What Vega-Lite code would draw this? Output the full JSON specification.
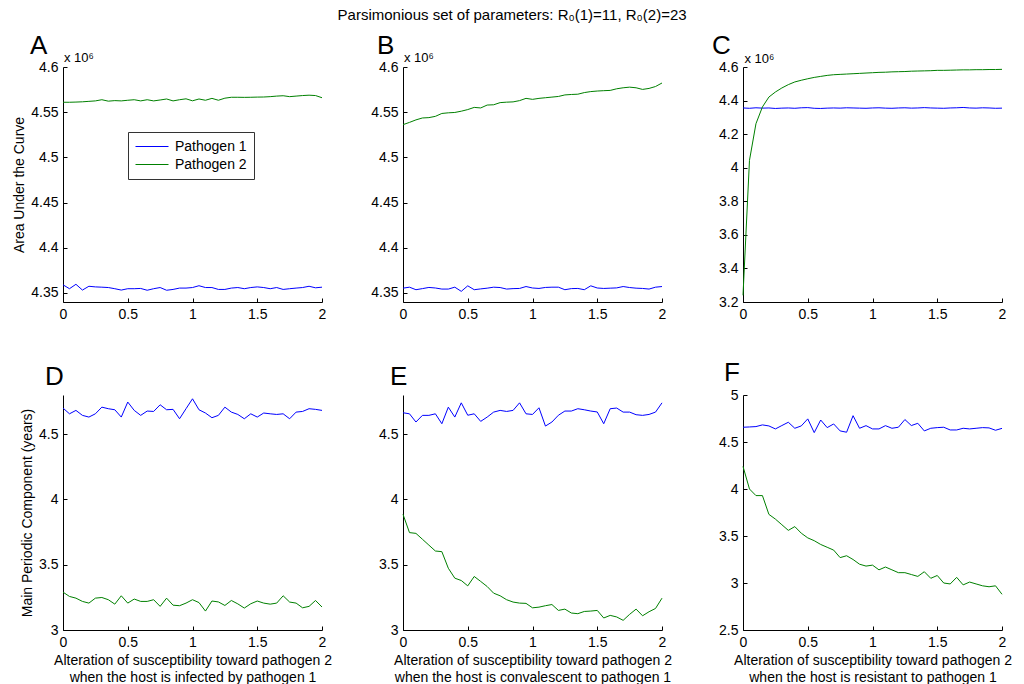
{
  "$schema": "https://vega.github.io/schema/vega-lite/v6.json",
  "background": "white",
  "padding": {"left": 12, "top": 8, "right": 5, "bottom": 0},
  "config": {
    "font": "Liberation Sans",
    "view": {"stroke": null},
    "axis": {"grid": false, "domainColor": "#000", "tickColor": "#000", "labelColor": "#000", "titleColor": "#000", "labelFontSize": 14, "titleFontSize": 14, "titleFontWeight": "normal", "labelFont": "Liberation Sans", "titleFont": "Liberation Sans", "tickSize": -4, "labelPadding": 9, "labelFlush": false, "labelOverlap": false, "titlePadding": 4, "titleLineHeight": 17},
    "title": {"font": "Liberation Sans", "fontWeight": "normal", "color": "#000"},
    "legend": {"labelFont": "Liberation Sans", "labelColor": "#000"}
  },
  "title": {"text": "Parsimonious set of parameters: R₀(1)=11, R₀(2)=23", "fontSize": 15, "anchor": "middle", "offset": 10},
  "datasets": {
    "A": [
      {"x":0,"pathogen":"Pathogen 1","value":4.359},{"x":0.05,"pathogen":"Pathogen 1","value":4.3547},{"x":0.1,"pathogen":"Pathogen 1","value":4.3596},{"x":0.15,"pathogen":"Pathogen 1","value":4.3532},{"x":0.2,"pathogen":"Pathogen 1","value":4.3574},{"x":0.25,"pathogen":"Pathogen 1","value":4.3567},{"x":0.3,"pathogen":"Pathogen 1","value":4.3564},{"x":0.35,"pathogen":"Pathogen 1","value":4.356},{"x":0.4,"pathogen":"Pathogen 1","value":4.3547},{"x":0.45,"pathogen":"Pathogen 1","value":4.3532},{"x":0.5,"pathogen":"Pathogen 1","value":4.3547},{"x":0.55,"pathogen":"Pathogen 1","value":4.3547},{"x":0.6,"pathogen":"Pathogen 1","value":4.355},{"x":0.65,"pathogen":"Pathogen 1","value":4.353},{"x":0.7,"pathogen":"Pathogen 1","value":4.3547},{"x":0.75,"pathogen":"Pathogen 1","value":4.356},{"x":0.8,"pathogen":"Pathogen 1","value":4.353},{"x":0.85,"pathogen":"Pathogen 1","value":4.3539},{"x":0.9,"pathogen":"Pathogen 1","value":4.3554},{"x":0.95,"pathogen":"Pathogen 1","value":4.3554},{"x":1,"pathogen":"Pathogen 1","value":4.356},{"x":1.05,"pathogen":"Pathogen 1","value":4.358},{"x":1.1,"pathogen":"Pathogen 1","value":4.356},{"x":1.15,"pathogen":"Pathogen 1","value":4.356},{"x":1.2,"pathogen":"Pathogen 1","value":4.3539},{"x":1.25,"pathogen":"Pathogen 1","value":4.3539},{"x":1.3,"pathogen":"Pathogen 1","value":4.3554},{"x":1.35,"pathogen":"Pathogen 1","value":4.356},{"x":1.4,"pathogen":"Pathogen 1","value":4.3547},{"x":1.45,"pathogen":"Pathogen 1","value":4.356},{"x":1.5,"pathogen":"Pathogen 1","value":4.3567},{"x":1.55,"pathogen":"Pathogen 1","value":4.356},{"x":1.6,"pathogen":"Pathogen 1","value":4.3547},{"x":1.65,"pathogen":"Pathogen 1","value":4.356},{"x":1.7,"pathogen":"Pathogen 1","value":4.3539},{"x":1.75,"pathogen":"Pathogen 1","value":4.3547},{"x":1.8,"pathogen":"Pathogen 1","value":4.3554},{"x":1.85,"pathogen":"Pathogen 1","value":4.356},{"x":1.9,"pathogen":"Pathogen 1","value":4.3574},{"x":1.95,"pathogen":"Pathogen 1","value":4.3557},{"x":2,"pathogen":"Pathogen 1","value":4.3564},
      {"x":0,"pathogen":"Pathogen 2","value":4.561},{"x":0.05,"pathogen":"Pathogen 2","value":4.561},{"x":0.1,"pathogen":"Pathogen 2","value":4.5612},{"x":0.15,"pathogen":"Pathogen 2","value":4.5615},{"x":0.2,"pathogen":"Pathogen 2","value":4.562},{"x":0.25,"pathogen":"Pathogen 2","value":4.5625},{"x":0.3,"pathogen":"Pathogen 2","value":4.5638},{"x":0.35,"pathogen":"Pathogen 2","value":4.5622},{"x":0.4,"pathogen":"Pathogen 2","value":4.5628},{"x":0.45,"pathogen":"Pathogen 2","value":4.5625},{"x":0.5,"pathogen":"Pathogen 2","value":4.5632},{"x":0.55,"pathogen":"Pathogen 2","value":4.5638},{"x":0.6,"pathogen":"Pathogen 2","value":4.5625},{"x":0.65,"pathogen":"Pathogen 2","value":4.5638},{"x":0.7,"pathogen":"Pathogen 2","value":4.5625},{"x":0.75,"pathogen":"Pathogen 2","value":4.5635},{"x":0.8,"pathogen":"Pathogen 2","value":4.5646},{"x":0.85,"pathogen":"Pathogen 2","value":4.5625},{"x":0.9,"pathogen":"Pathogen 2","value":4.5638},{"x":0.95,"pathogen":"Pathogen 2","value":4.5648},{"x":1,"pathogen":"Pathogen 2","value":4.5626},{"x":1.05,"pathogen":"Pathogen 2","value":4.5646},{"x":1.1,"pathogen":"Pathogen 2","value":4.5632},{"x":1.15,"pathogen":"Pathogen 2","value":4.5653},{"x":1.2,"pathogen":"Pathogen 2","value":4.5632},{"x":1.25,"pathogen":"Pathogen 2","value":4.5655},{"x":1.3,"pathogen":"Pathogen 2","value":4.5665},{"x":1.35,"pathogen":"Pathogen 2","value":4.5665},{"x":1.4,"pathogen":"Pathogen 2","value":4.5664},{"x":1.45,"pathogen":"Pathogen 2","value":4.5665},{"x":1.5,"pathogen":"Pathogen 2","value":4.5667},{"x":1.55,"pathogen":"Pathogen 2","value":4.5668},{"x":1.6,"pathogen":"Pathogen 2","value":4.5672},{"x":1.65,"pathogen":"Pathogen 2","value":4.5678},{"x":1.7,"pathogen":"Pathogen 2","value":4.5682},{"x":1.75,"pathogen":"Pathogen 2","value":4.5672},{"x":1.8,"pathogen":"Pathogen 2","value":4.5678},{"x":1.85,"pathogen":"Pathogen 2","value":4.5684},{"x":1.9,"pathogen":"Pathogen 2","value":4.5688},{"x":1.95,"pathogen":"Pathogen 2","value":4.5684},{"x":2,"pathogen":"Pathogen 2","value":4.566}
    ],
    "B": [
      {"x":0,"pathogen":"Pathogen 1","value":4.3553},{"x":0.05,"pathogen":"Pathogen 1","value":4.3564},{"x":0.1,"pathogen":"Pathogen 1","value":4.3536},{"x":0.15,"pathogen":"Pathogen 1","value":4.3548},{"x":0.2,"pathogen":"Pathogen 1","value":4.3561},{"x":0.25,"pathogen":"Pathogen 1","value":4.3555},{"x":0.3,"pathogen":"Pathogen 1","value":4.3543},{"x":0.35,"pathogen":"Pathogen 1","value":4.3543},{"x":0.4,"pathogen":"Pathogen 1","value":4.3564},{"x":0.45,"pathogen":"Pathogen 1","value":4.3518},{"x":0.5,"pathogen":"Pathogen 1","value":4.3579},{"x":0.55,"pathogen":"Pathogen 1","value":4.3536},{"x":0.6,"pathogen":"Pathogen 1","value":4.3545},{"x":0.65,"pathogen":"Pathogen 1","value":4.3553},{"x":0.7,"pathogen":"Pathogen 1","value":4.3564},{"x":0.75,"pathogen":"Pathogen 1","value":4.356},{"x":0.8,"pathogen":"Pathogen 1","value":4.3543},{"x":0.85,"pathogen":"Pathogen 1","value":4.3548},{"x":0.9,"pathogen":"Pathogen 1","value":4.355},{"x":0.95,"pathogen":"Pathogen 1","value":4.3571},{"x":1,"pathogen":"Pathogen 1","value":4.3555},{"x":1.05,"pathogen":"Pathogen 1","value":4.355},{"x":1.1,"pathogen":"Pathogen 1","value":4.3561},{"x":1.15,"pathogen":"Pathogen 1","value":4.3564},{"x":1.2,"pathogen":"Pathogen 1","value":4.3564},{"x":1.25,"pathogen":"Pathogen 1","value":4.3536},{"x":1.3,"pathogen":"Pathogen 1","value":4.3548},{"x":1.35,"pathogen":"Pathogen 1","value":4.355},{"x":1.4,"pathogen":"Pathogen 1","value":4.3536},{"x":1.45,"pathogen":"Pathogen 1","value":4.3579},{"x":1.5,"pathogen":"Pathogen 1","value":4.3555},{"x":1.55,"pathogen":"Pathogen 1","value":4.355},{"x":1.6,"pathogen":"Pathogen 1","value":4.3553},{"x":1.65,"pathogen":"Pathogen 1","value":4.3556},{"x":1.7,"pathogen":"Pathogen 1","value":4.3571},{"x":1.75,"pathogen":"Pathogen 1","value":4.356},{"x":1.8,"pathogen":"Pathogen 1","value":4.3553},{"x":1.85,"pathogen":"Pathogen 1","value":4.355},{"x":1.9,"pathogen":"Pathogen 1","value":4.3543},{"x":1.95,"pathogen":"Pathogen 1","value":4.3564},{"x":2,"pathogen":"Pathogen 1","value":4.3571},
      {"x":0,"pathogen":"Pathogen 2","value":4.5362},{"x":0.05,"pathogen":"Pathogen 2","value":4.5387},{"x":0.1,"pathogen":"Pathogen 2","value":4.5415},{"x":0.15,"pathogen":"Pathogen 2","value":4.5436},{"x":0.2,"pathogen":"Pathogen 2","value":4.544},{"x":0.25,"pathogen":"Pathogen 2","value":4.5454},{"x":0.3,"pathogen":"Pathogen 2","value":4.5486},{"x":0.35,"pathogen":"Pathogen 2","value":4.5493},{"x":0.4,"pathogen":"Pathogen 2","value":4.5497},{"x":0.45,"pathogen":"Pathogen 2","value":4.5511},{"x":0.5,"pathogen":"Pathogen 2","value":4.5529},{"x":0.55,"pathogen":"Pathogen 2","value":4.5553},{"x":0.6,"pathogen":"Pathogen 2","value":4.5547},{"x":0.65,"pathogen":"Pathogen 2","value":4.5579},{"x":0.7,"pathogen":"Pathogen 2","value":4.5582},{"x":0.75,"pathogen":"Pathogen 2","value":4.5606},{"x":0.8,"pathogen":"Pathogen 2","value":4.5611},{"x":0.85,"pathogen":"Pathogen 2","value":4.5614},{"x":0.9,"pathogen":"Pathogen 2","value":4.5628},{"x":0.95,"pathogen":"Pathogen 2","value":4.5653},{"x":1,"pathogen":"Pathogen 2","value":4.5642},{"x":1.05,"pathogen":"Pathogen 2","value":4.5653},{"x":1.1,"pathogen":"Pathogen 2","value":4.566},{"x":1.15,"pathogen":"Pathogen 2","value":4.5667},{"x":1.2,"pathogen":"Pathogen 2","value":4.5674},{"x":1.25,"pathogen":"Pathogen 2","value":4.5691},{"x":1.3,"pathogen":"Pathogen 2","value":4.5696},{"x":1.35,"pathogen":"Pathogen 2","value":4.5699},{"x":1.4,"pathogen":"Pathogen 2","value":4.5717},{"x":1.45,"pathogen":"Pathogen 2","value":4.5728},{"x":1.5,"pathogen":"Pathogen 2","value":4.5734},{"x":1.55,"pathogen":"Pathogen 2","value":4.5738},{"x":1.6,"pathogen":"Pathogen 2","value":4.5741},{"x":1.65,"pathogen":"Pathogen 2","value":4.5759},{"x":1.7,"pathogen":"Pathogen 2","value":4.577},{"x":1.75,"pathogen":"Pathogen 2","value":4.5777},{"x":1.8,"pathogen":"Pathogen 2","value":4.577},{"x":1.85,"pathogen":"Pathogen 2","value":4.5752},{"x":1.9,"pathogen":"Pathogen 2","value":4.5763},{"x":1.95,"pathogen":"Pathogen 2","value":4.5784},{"x":2,"pathogen":"Pathogen 2","value":4.5823}
    ],
    "C": [
      {"x":0,"pathogen":"Pathogen 1","value":4.356},{"x":0.05,"pathogen":"Pathogen 1","value":4.354},{"x":0.1,"pathogen":"Pathogen 1","value":4.357},{"x":0.15,"pathogen":"Pathogen 1","value":4.355},{"x":0.2,"pathogen":"Pathogen 1","value":4.356},{"x":0.25,"pathogen":"Pathogen 1","value":4.353},{"x":0.3,"pathogen":"Pathogen 1","value":4.355},{"x":0.35,"pathogen":"Pathogen 1","value":4.356},{"x":0.4,"pathogen":"Pathogen 1","value":4.354},{"x":0.45,"pathogen":"Pathogen 1","value":4.357},{"x":0.5,"pathogen":"Pathogen 1","value":4.358},{"x":0.55,"pathogen":"Pathogen 1","value":4.354},{"x":0.6,"pathogen":"Pathogen 1","value":4.353},{"x":0.65,"pathogen":"Pathogen 1","value":4.355},{"x":0.7,"pathogen":"Pathogen 1","value":4.356},{"x":0.75,"pathogen":"Pathogen 1","value":4.355},{"x":0.8,"pathogen":"Pathogen 1","value":4.357},{"x":0.85,"pathogen":"Pathogen 1","value":4.356},{"x":0.9,"pathogen":"Pathogen 1","value":4.355},{"x":0.95,"pathogen":"Pathogen 1","value":4.354},{"x":1,"pathogen":"Pathogen 1","value":4.356},{"x":1.05,"pathogen":"Pathogen 1","value":4.357},{"x":1.1,"pathogen":"Pathogen 1","value":4.355},{"x":1.15,"pathogen":"Pathogen 1","value":4.354},{"x":1.2,"pathogen":"Pathogen 1","value":4.356},{"x":1.25,"pathogen":"Pathogen 1","value":4.357},{"x":1.3,"pathogen":"Pathogen 1","value":4.355},{"x":1.35,"pathogen":"Pathogen 1","value":4.356},{"x":1.4,"pathogen":"Pathogen 1","value":4.358},{"x":1.45,"pathogen":"Pathogen 1","value":4.356},{"x":1.5,"pathogen":"Pathogen 1","value":4.355},{"x":1.55,"pathogen":"Pathogen 1","value":4.354},{"x":1.6,"pathogen":"Pathogen 1","value":4.356},{"x":1.65,"pathogen":"Pathogen 1","value":4.357},{"x":1.7,"pathogen":"Pathogen 1","value":4.359},{"x":1.75,"pathogen":"Pathogen 1","value":4.356},{"x":1.8,"pathogen":"Pathogen 1","value":4.355},{"x":1.85,"pathogen":"Pathogen 1","value":4.357},{"x":1.9,"pathogen":"Pathogen 1","value":4.356},{"x":1.95,"pathogen":"Pathogen 1","value":4.354},{"x":2,"pathogen":"Pathogen 1","value":4.355},
      {"x":0,"pathogen":"Pathogen 2","value":3.24},{"x":0.05,"pathogen":"Pathogen 2","value":4.044},{"x":0.1,"pathogen":"Pathogen 2","value":4.262},{"x":0.15,"pathogen":"Pathogen 2","value":4.362},{"x":0.2,"pathogen":"Pathogen 2","value":4.421},{"x":0.25,"pathogen":"Pathogen 2","value":4.451},{"x":0.3,"pathogen":"Pathogen 2","value":4.475},{"x":0.35,"pathogen":"Pathogen 2","value":4.495},{"x":0.4,"pathogen":"Pathogen 2","value":4.511},{"x":0.45,"pathogen":"Pathogen 2","value":4.521},{"x":0.5,"pathogen":"Pathogen 2","value":4.53},{"x":0.55,"pathogen":"Pathogen 2","value":4.538},{"x":0.6,"pathogen":"Pathogen 2","value":4.544},{"x":0.65,"pathogen":"Pathogen 2","value":4.55},{"x":0.7,"pathogen":"Pathogen 2","value":4.554},{"x":0.75,"pathogen":"Pathogen 2","value":4.556},{"x":0.8,"pathogen":"Pathogen 2","value":4.558},{"x":0.85,"pathogen":"Pathogen 2","value":4.56},{"x":0.9,"pathogen":"Pathogen 2","value":4.562},{"x":0.95,"pathogen":"Pathogen 2","value":4.564},{"x":1,"pathogen":"Pathogen 2","value":4.566},{"x":1.05,"pathogen":"Pathogen 2","value":4.568},{"x":1.1,"pathogen":"Pathogen 2","value":4.569},{"x":1.15,"pathogen":"Pathogen 2","value":4.571},{"x":1.2,"pathogen":"Pathogen 2","value":4.572},{"x":1.25,"pathogen":"Pathogen 2","value":4.573},{"x":1.3,"pathogen":"Pathogen 2","value":4.575},{"x":1.35,"pathogen":"Pathogen 2","value":4.576},{"x":1.4,"pathogen":"Pathogen 2","value":4.577},{"x":1.45,"pathogen":"Pathogen 2","value":4.578},{"x":1.5,"pathogen":"Pathogen 2","value":4.58},{"x":1.55,"pathogen":"Pathogen 2","value":4.58},{"x":1.6,"pathogen":"Pathogen 2","value":4.581},{"x":1.65,"pathogen":"Pathogen 2","value":4.582},{"x":1.7,"pathogen":"Pathogen 2","value":4.583},{"x":1.75,"pathogen":"Pathogen 2","value":4.583},{"x":1.8,"pathogen":"Pathogen 2","value":4.584},{"x":1.85,"pathogen":"Pathogen 2","value":4.584},{"x":1.9,"pathogen":"Pathogen 2","value":4.585},{"x":1.95,"pathogen":"Pathogen 2","value":4.585},{"x":2,"pathogen":"Pathogen 2","value":4.586}
    ],
    "D": [
      {"x":0,"pathogen":"Pathogen 1","value":4.7},{"x":0.05,"pathogen":"Pathogen 1","value":4.656},{"x":0.1,"pathogen":"Pathogen 1","value":4.682},{"x":0.15,"pathogen":"Pathogen 1","value":4.644},{"x":0.2,"pathogen":"Pathogen 1","value":4.631},{"x":0.25,"pathogen":"Pathogen 1","value":4.656},{"x":0.3,"pathogen":"Pathogen 1","value":4.707},{"x":0.35,"pathogen":"Pathogen 1","value":4.695},{"x":0.4,"pathogen":"Pathogen 1","value":4.687},{"x":0.45,"pathogen":"Pathogen 1","value":4.631},{"x":0.5,"pathogen":"Pathogen 1","value":4.746},{"x":0.55,"pathogen":"Pathogen 1","value":4.682},{"x":0.6,"pathogen":"Pathogen 1","value":4.644},{"x":0.65,"pathogen":"Pathogen 1","value":4.677},{"x":0.7,"pathogen":"Pathogen 1","value":4.674},{"x":0.75,"pathogen":"Pathogen 1","value":4.725},{"x":0.8,"pathogen":"Pathogen 1","value":4.687},{"x":0.85,"pathogen":"Pathogen 1","value":4.69},{"x":0.9,"pathogen":"Pathogen 1","value":4.618},{"x":0.95,"pathogen":"Pathogen 1","value":4.695},{"x":1,"pathogen":"Pathogen 1","value":4.771},{"x":1.05,"pathogen":"Pathogen 1","value":4.687},{"x":1.1,"pathogen":"Pathogen 1","value":4.662},{"x":1.15,"pathogen":"Pathogen 1","value":4.626},{"x":1.2,"pathogen":"Pathogen 1","value":4.644},{"x":1.25,"pathogen":"Pathogen 1","value":4.707},{"x":1.3,"pathogen":"Pathogen 1","value":4.669},{"x":1.35,"pathogen":"Pathogen 1","value":4.651},{"x":1.4,"pathogen":"Pathogen 1","value":4.618},{"x":1.45,"pathogen":"Pathogen 1","value":4.656},{"x":1.5,"pathogen":"Pathogen 1","value":4.631},{"x":1.55,"pathogen":"Pathogen 1","value":4.662},{"x":1.6,"pathogen":"Pathogen 1","value":4.656},{"x":1.65,"pathogen":"Pathogen 1","value":4.651},{"x":1.7,"pathogen":"Pathogen 1","value":4.656},{"x":1.75,"pathogen":"Pathogen 1","value":4.618},{"x":1.8,"pathogen":"Pathogen 1","value":4.669},{"x":1.85,"pathogen":"Pathogen 1","value":4.674},{"x":1.9,"pathogen":"Pathogen 1","value":4.695},{"x":1.95,"pathogen":"Pathogen 1","value":4.69},{"x":2,"pathogen":"Pathogen 1","value":4.682},
      {"x":0,"pathogen":"Pathogen 2","value":3.29},{"x":0.05,"pathogen":"Pathogen 2","value":3.257},{"x":0.1,"pathogen":"Pathogen 2","value":3.244},{"x":0.15,"pathogen":"Pathogen 2","value":3.219},{"x":0.2,"pathogen":"Pathogen 2","value":3.206},{"x":0.25,"pathogen":"Pathogen 2","value":3.244},{"x":0.3,"pathogen":"Pathogen 2","value":3.249},{"x":0.35,"pathogen":"Pathogen 2","value":3.232},{"x":0.4,"pathogen":"Pathogen 2","value":3.198},{"x":0.45,"pathogen":"Pathogen 2","value":3.262},{"x":0.5,"pathogen":"Pathogen 2","value":3.206},{"x":0.55,"pathogen":"Pathogen 2","value":3.237},{"x":0.6,"pathogen":"Pathogen 2","value":3.219},{"x":0.65,"pathogen":"Pathogen 2","value":3.219},{"x":0.7,"pathogen":"Pathogen 2","value":3.232},{"x":0.75,"pathogen":"Pathogen 2","value":3.181},{"x":0.8,"pathogen":"Pathogen 2","value":3.244},{"x":0.85,"pathogen":"Pathogen 2","value":3.19},{"x":0.9,"pathogen":"Pathogen 2","value":3.186},{"x":0.95,"pathogen":"Pathogen 2","value":3.206},{"x":1,"pathogen":"Pathogen 2","value":3.232},{"x":1.05,"pathogen":"Pathogen 2","value":3.21},{"x":1.1,"pathogen":"Pathogen 2","value":3.145},{"x":1.15,"pathogen":"Pathogen 2","value":3.222},{"x":1.2,"pathogen":"Pathogen 2","value":3.215},{"x":1.25,"pathogen":"Pathogen 2","value":3.188},{"x":1.3,"pathogen":"Pathogen 2","value":3.226},{"x":1.35,"pathogen":"Pathogen 2","value":3.2},{"x":1.4,"pathogen":"Pathogen 2","value":3.168},{"x":1.45,"pathogen":"Pathogen 2","value":3.201},{"x":1.5,"pathogen":"Pathogen 2","value":3.222},{"x":1.55,"pathogen":"Pathogen 2","value":3.206},{"x":1.6,"pathogen":"Pathogen 2","value":3.198},{"x":1.65,"pathogen":"Pathogen 2","value":3.206},{"x":1.7,"pathogen":"Pathogen 2","value":3.262},{"x":1.75,"pathogen":"Pathogen 2","value":3.214},{"x":1.8,"pathogen":"Pathogen 2","value":3.206},{"x":1.85,"pathogen":"Pathogen 2","value":3.17},{"x":1.9,"pathogen":"Pathogen 2","value":3.181},{"x":1.95,"pathogen":"Pathogen 2","value":3.226},{"x":2,"pathogen":"Pathogen 2","value":3.176}
    ],
    "E": [
      {"x":0,"pathogen":"Pathogen 1","value":4.664},{"x":0.05,"pathogen":"Pathogen 1","value":4.656},{"x":0.1,"pathogen":"Pathogen 1","value":4.593},{"x":0.15,"pathogen":"Pathogen 1","value":4.644},{"x":0.2,"pathogen":"Pathogen 1","value":4.644},{"x":0.25,"pathogen":"Pathogen 1","value":4.656},{"x":0.3,"pathogen":"Pathogen 1","value":4.58},{"x":0.35,"pathogen":"Pathogen 1","value":4.707},{"x":0.4,"pathogen":"Pathogen 1","value":4.631},{"x":0.45,"pathogen":"Pathogen 1","value":4.74},{"x":0.5,"pathogen":"Pathogen 1","value":4.645},{"x":0.55,"pathogen":"Pathogen 1","value":4.656},{"x":0.6,"pathogen":"Pathogen 1","value":4.598},{"x":0.65,"pathogen":"Pathogen 1","value":4.631},{"x":0.7,"pathogen":"Pathogen 1","value":4.669},{"x":0.75,"pathogen":"Pathogen 1","value":4.682},{"x":0.8,"pathogen":"Pathogen 1","value":4.674},{"x":0.85,"pathogen":"Pathogen 1","value":4.682},{"x":0.9,"pathogen":"Pathogen 1","value":4.74},{"x":0.95,"pathogen":"Pathogen 1","value":4.656},{"x":1,"pathogen":"Pathogen 1","value":4.651},{"x":1.05,"pathogen":"Pathogen 1","value":4.702},{"x":1.1,"pathogen":"Pathogen 1","value":4.562},{"x":1.15,"pathogen":"Pathogen 1","value":4.593},{"x":1.2,"pathogen":"Pathogen 1","value":4.645},{"x":1.25,"pathogen":"Pathogen 1","value":4.677},{"x":1.3,"pathogen":"Pathogen 1","value":4.677},{"x":1.35,"pathogen":"Pathogen 1","value":4.695},{"x":1.4,"pathogen":"Pathogen 1","value":4.687},{"x":1.45,"pathogen":"Pathogen 1","value":4.677},{"x":1.5,"pathogen":"Pathogen 1","value":4.67},{"x":1.55,"pathogen":"Pathogen 1","value":4.58},{"x":1.6,"pathogen":"Pathogen 1","value":4.695},{"x":1.65,"pathogen":"Pathogen 1","value":4.7},{"x":1.7,"pathogen":"Pathogen 1","value":4.669},{"x":1.75,"pathogen":"Pathogen 1","value":4.669},{"x":1.8,"pathogen":"Pathogen 1","value":4.649},{"x":1.85,"pathogen":"Pathogen 1","value":4.644},{"x":1.9,"pathogen":"Pathogen 1","value":4.651},{"x":1.95,"pathogen":"Pathogen 1","value":4.669},{"x":2,"pathogen":"Pathogen 1","value":4.74},
      {"x":0,"pathogen":"Pathogen 2","value":3.886},{"x":0.05,"pathogen":"Pathogen 2","value":3.746},{"x":0.1,"pathogen":"Pathogen 2","value":3.74},{"x":0.15,"pathogen":"Pathogen 2","value":3.695},{"x":0.2,"pathogen":"Pathogen 2","value":3.65},{"x":0.25,"pathogen":"Pathogen 2","value":3.605},{"x":0.3,"pathogen":"Pathogen 2","value":3.6},{"x":0.35,"pathogen":"Pathogen 2","value":3.473},{"x":0.4,"pathogen":"Pathogen 2","value":3.397},{"x":0.45,"pathogen":"Pathogen 2","value":3.379},{"x":0.5,"pathogen":"Pathogen 2","value":3.338},{"x":0.55,"pathogen":"Pathogen 2","value":3.41},{"x":0.6,"pathogen":"Pathogen 2","value":3.372},{"x":0.65,"pathogen":"Pathogen 2","value":3.333},{"x":0.7,"pathogen":"Pathogen 2","value":3.282},{"x":0.75,"pathogen":"Pathogen 2","value":3.262},{"x":0.8,"pathogen":"Pathogen 2","value":3.232},{"x":0.85,"pathogen":"Pathogen 2","value":3.214},{"x":0.9,"pathogen":"Pathogen 2","value":3.206},{"x":0.95,"pathogen":"Pathogen 2","value":3.204},{"x":1,"pathogen":"Pathogen 2","value":3.17},{"x":1.05,"pathogen":"Pathogen 2","value":3.175},{"x":1.1,"pathogen":"Pathogen 2","value":3.186},{"x":1.15,"pathogen":"Pathogen 2","value":3.195},{"x":1.2,"pathogen":"Pathogen 2","value":3.15},{"x":1.25,"pathogen":"Pathogen 2","value":3.16},{"x":1.3,"pathogen":"Pathogen 2","value":3.13},{"x":1.35,"pathogen":"Pathogen 2","value":3.125},{"x":1.4,"pathogen":"Pathogen 2","value":3.142},{"x":1.45,"pathogen":"Pathogen 2","value":3.145},{"x":1.5,"pathogen":"Pathogen 2","value":3.15},{"x":1.55,"pathogen":"Pathogen 2","value":3.092},{"x":1.6,"pathogen":"Pathogen 2","value":3.112},{"x":1.65,"pathogen":"Pathogen 2","value":3.1},{"x":1.7,"pathogen":"Pathogen 2","value":3.074},{"x":1.75,"pathogen":"Pathogen 2","value":3.12},{"x":1.8,"pathogen":"Pathogen 2","value":3.16},{"x":1.85,"pathogen":"Pathogen 2","value":3.109},{"x":1.9,"pathogen":"Pathogen 2","value":3.14},{"x":1.95,"pathogen":"Pathogen 2","value":3.165},{"x":2,"pathogen":"Pathogen 2","value":3.244}
    ],
    "F": [
      {"x":0,"pathogen":"Pathogen 1","value":4.657},{"x":0.05,"pathogen":"Pathogen 1","value":4.66},{"x":0.1,"pathogen":"Pathogen 1","value":4.664},{"x":0.15,"pathogen":"Pathogen 1","value":4.682},{"x":0.2,"pathogen":"Pathogen 1","value":4.671},{"x":0.25,"pathogen":"Pathogen 1","value":4.639},{"x":0.3,"pathogen":"Pathogen 1","value":4.675},{"x":0.35,"pathogen":"Pathogen 1","value":4.71},{"x":0.4,"pathogen":"Pathogen 1","value":4.646},{"x":0.45,"pathogen":"Pathogen 1","value":4.671},{"x":0.5,"pathogen":"Pathogen 1","value":4.746},{"x":0.55,"pathogen":"Pathogen 1","value":4.6},{"x":0.6,"pathogen":"Pathogen 1","value":4.734},{"x":0.65,"pathogen":"Pathogen 1","value":4.653},{"x":0.7,"pathogen":"Pathogen 1","value":4.692},{"x":0.75,"pathogen":"Pathogen 1","value":4.618},{"x":0.8,"pathogen":"Pathogen 1","value":4.604},{"x":0.85,"pathogen":"Pathogen 1","value":4.78},{"x":0.9,"pathogen":"Pathogen 1","value":4.646},{"x":0.95,"pathogen":"Pathogen 1","value":4.674},{"x":1,"pathogen":"Pathogen 1","value":4.639},{"x":1.05,"pathogen":"Pathogen 1","value":4.639},{"x":1.1,"pathogen":"Pathogen 1","value":4.674},{"x":1.15,"pathogen":"Pathogen 1","value":4.646},{"x":1.2,"pathogen":"Pathogen 1","value":4.657},{"x":1.25,"pathogen":"Pathogen 1","value":4.739},{"x":1.3,"pathogen":"Pathogen 1","value":4.675},{"x":1.35,"pathogen":"Pathogen 1","value":4.699},{"x":1.4,"pathogen":"Pathogen 1","value":4.618},{"x":1.45,"pathogen":"Pathogen 1","value":4.646},{"x":1.5,"pathogen":"Pathogen 1","value":4.653},{"x":1.55,"pathogen":"Pathogen 1","value":4.657},{"x":1.6,"pathogen":"Pathogen 1","value":4.628},{"x":1.65,"pathogen":"Pathogen 1","value":4.628},{"x":1.7,"pathogen":"Pathogen 1","value":4.646},{"x":1.75,"pathogen":"Pathogen 1","value":4.639},{"x":1.8,"pathogen":"Pathogen 1","value":4.646},{"x":1.85,"pathogen":"Pathogen 1","value":4.653},{"x":1.9,"pathogen":"Pathogen 1","value":4.65},{"x":1.95,"pathogen":"Pathogen 1","value":4.625},{"x":2,"pathogen":"Pathogen 1","value":4.645},
      {"x":0,"pathogen":"Pathogen 2","value":4.24},{"x":0.05,"pathogen":"Pathogen 2","value":4.0},{"x":0.1,"pathogen":"Pathogen 2","value":3.93},{"x":0.15,"pathogen":"Pathogen 2","value":3.93},{"x":0.2,"pathogen":"Pathogen 2","value":3.73},{"x":0.25,"pathogen":"Pathogen 2","value":3.68},{"x":0.3,"pathogen":"Pathogen 2","value":3.62},{"x":0.35,"pathogen":"Pathogen 2","value":3.56},{"x":0.4,"pathogen":"Pathogen 2","value":3.6},{"x":0.45,"pathogen":"Pathogen 2","value":3.53},{"x":0.5,"pathogen":"Pathogen 2","value":3.48},{"x":0.55,"pathogen":"Pathogen 2","value":3.45},{"x":0.6,"pathogen":"Pathogen 2","value":3.41},{"x":0.65,"pathogen":"Pathogen 2","value":3.38},{"x":0.7,"pathogen":"Pathogen 2","value":3.35},{"x":0.75,"pathogen":"Pathogen 2","value":3.27},{"x":0.8,"pathogen":"Pathogen 2","value":3.29},{"x":0.85,"pathogen":"Pathogen 2","value":3.25},{"x":0.9,"pathogen":"Pathogen 2","value":3.2},{"x":0.95,"pathogen":"Pathogen 2","value":3.18},{"x":1,"pathogen":"Pathogen 2","value":3.19},{"x":1.05,"pathogen":"Pathogen 2","value":3.14},{"x":1.1,"pathogen":"Pathogen 2","value":3.17},{"x":1.15,"pathogen":"Pathogen 2","value":3.14},{"x":1.2,"pathogen":"Pathogen 2","value":3.11},{"x":1.25,"pathogen":"Pathogen 2","value":3.11},{"x":1.3,"pathogen":"Pathogen 2","value":3.09},{"x":1.35,"pathogen":"Pathogen 2","value":3.07},{"x":1.4,"pathogen":"Pathogen 2","value":3.12},{"x":1.45,"pathogen":"Pathogen 2","value":3.05},{"x":1.5,"pathogen":"Pathogen 2","value":3.08},{"x":1.55,"pathogen":"Pathogen 2","value":3.0},{"x":1.6,"pathogen":"Pathogen 2","value":2.99},{"x":1.65,"pathogen":"Pathogen 2","value":3.06},{"x":1.7,"pathogen":"Pathogen 2","value":2.98},{"x":1.75,"pathogen":"Pathogen 2","value":3.01},{"x":1.8,"pathogen":"Pathogen 2","value":2.99},{"x":1.85,"pathogen":"Pathogen 2","value":2.97},{"x":1.9,"pathogen":"Pathogen 2","value":2.96},{"x":1.95,"pathogen":"Pathogen 2","value":2.97},{"x":2,"pathogen":"Pathogen 2","value":2.88}
    ]
  },
  "bounds": "flush",
  "columns": 3,
  "spacing": {"row": 93, "column": 81},
  "resolve": {"scale": {"x": "independent", "y": "independent", "color": "independent"}, "legend": {"color": "independent"}, "axis": {"x": "independent", "y": "independent"}},
  "concat": [
    {
      "width": 259, "height": 235,
      "title": {"text": "A", "anchor": "start", "fontSize": 26, "dx": -33, "offset": -7, "frame": "group"},
      "layer": [
        {
          "data": {"name": "A"},
          "mark": {"type": "line", "strokeWidth": 1},
          "encoding": {
            "x": {"field": "x", "type": "quantitative", "scale": {"domain": [0, 2]}, "axis": {"values": [0, 0.5, 1, 1.5, 2], "format": "~g", "title": null, "labelOverlap": false}},
            "y": {"field": "value", "type": "quantitative", "scale": {"domain": [4.35, 4.6], "zero": false}, "axis": {"values": [4.35, 4.4, 4.45, 4.5, 4.55, 4.6], "format": "~g", "title": "Area Under the Curve", "labelOverlap": false}},
            "color": {"field": "pathogen", "type": "nominal", "scale": {"domain": ["Pathogen 1", "Pathogen 2"], "range": ["#0000ff", "#008000"]},
              "legend": {"title": null, "orient": "none", "legendX": 65, "legendY": 65, "strokeColor": "#333333", "fillColor": "white", "padding": 7, "labelFontSize": 14, "symbolType": "stroke", "symbolSize": 1089, "symbolStrokeWidth": 1, "clipHeight": 15, "rowPadding": 3, "labelOffset": 6}}
          }
        },
        {
          "data": {"values": [{"label": "x 10⁶"}]},
          "mark": {"type": "text", "align": "left", "baseline": "alphabetic", "fontSize": 13, "dx": 1, "dy": -5},
          "encoding": {"x": {"datum": 0, "type": "quantitative"}, "y": {"datum": 4.6, "type": "quantitative"}, "text": {"field": "label"}}
        }
      ]
    },
    {
      "width": 259, "height": 235,
      "title": {"text": "B", "anchor": "start", "fontSize": 26, "dx": -26, "offset": -7, "frame": "group"},
      "layer": [
        {
          "data": {"name": "B"},
          "mark": {"type": "line", "strokeWidth": 1},
          "encoding": {
            "x": {"field": "x", "type": "quantitative", "scale": {"domain": [0, 2]}, "axis": {"values": [0, 0.5, 1, 1.5, 2], "format": "~g", "title": null, "labelOverlap": false}},
            "y": {"field": "value", "type": "quantitative", "scale": {"domain": [4.35, 4.6], "zero": false}, "axis": {"values": [4.35, 4.4, 4.45, 4.5, 4.55, 4.6], "format": "~g", "title": null, "labelOverlap": false}},
            "color": {"field": "pathogen", "type": "nominal", "scale": {"domain": ["Pathogen 1", "Pathogen 2"], "range": ["#0000ff", "#008000"]}, "legend": null}
          }
        },
        {
          "data": {"values": [{"label": "x 10⁶"}]},
          "mark": {"type": "text", "align": "left", "baseline": "alphabetic", "fontSize": 13, "dx": 1, "dy": -5},
          "encoding": {"x": {"datum": 0, "type": "quantitative"}, "y": {"datum": 4.6, "type": "quantitative"}, "text": {"field": "label"}}
        }
      ]
    },
    {
      "width": 259, "height": 235,
      "title": {"text": "C", "anchor": "start", "fontSize": 26, "dx": -31, "offset": -7, "frame": "group"},
      "data": {"name": "C"},
      "mark": {"type": "line", "strokeWidth": 1},
      "encoding": {
        "x": {"field": "x", "type": "quantitative", "scale": {"domain": [0, 2]}, "axis": {"values": [0, 0.5, 1, 1.5, 2], "format": "~g", "title": null, "labelOverlap": false}},
        "y": {"field": "value", "type": "quantitative", "scale": {"domain": [3.2, 4.6], "zero": false}, "axis": {"values": [3.2, 3.4, 3.6, 3.8, 4, 4.2, 4.4, 4.6], "format": "~g", "labelOverlap": false, "title": "x 10⁶", "titleAngle": 0, "titleAlign": "left", "titleBaseline": "alphabetic", "titleX": 1, "titleY": -5, "titleFontSize": 13}},
        "color": {"field": "pathogen", "type": "nominal", "scale": {"domain": ["Pathogen 1", "Pathogen 2"], "range": ["#0000ff", "#008000"]}, "legend": null}
      }
    },
    {
      "width": 259, "height": 235,
      "title": {"text": "D", "anchor": "start", "fontSize": 26, "dx": -18, "offset": 5, "frame": "group"},
      "data": {"name": "D"},
      "mark": {"type": "line", "strokeWidth": 1},
      "encoding": {
        "x": {"field": "x", "type": "quantitative", "scale": {"domain": [0, 2]}, "axis": {"values": [0, 0.5, 1, 1.5, 2], "format": "~g", "title": ["Alteration of susceptibility toward pathogen 2", "when the host is infected by pathogen 1"], "labelOverlap": false}},
        "y": {"field": "value", "type": "quantitative", "scale": {"domain": [3, 4.8], "zero": false}, "axis": {"values": [3, 3.5, 4, 4.5], "format": "~g", "title": "Main Periodic Component (years)", "labelOverlap": false}},
        "color": {"field": "pathogen", "type": "nominal", "scale": {"domain": ["Pathogen 1", "Pathogen 2"], "range": ["#0000ff", "#008000"]}, "legend": null}
      }
    },
    {
      "width": 259, "height": 235,
      "title": {"text": "E", "anchor": "start", "fontSize": 26, "dx": -13, "offset": 5, "frame": "group"},
      "data": {"name": "E"},
      "mark": {"type": "line", "strokeWidth": 1},
      "encoding": {
        "x": {"field": "x", "type": "quantitative", "scale": {"domain": [0, 2]}, "axis": {"values": [0, 0.5, 1, 1.5, 2], "format": "~g", "title": ["Alteration of susceptibility toward pathogen 2", "when the host is convalescent to pathogen 1"], "labelOverlap": false}},
        "y": {"field": "value", "type": "quantitative", "scale": {"domain": [3, 4.8], "zero": false}, "axis": {"values": [3, 3.5, 4, 4.5], "format": "~g", "title": null, "labelOverlap": false}},
        "color": {"field": "pathogen", "type": "nominal", "scale": {"domain": ["Pathogen 1", "Pathogen 2"], "range": ["#0000ff", "#008000"]}, "legend": null}
      }
    },
    {
      "width": 259, "height": 235,
      "title": {"text": "F", "anchor": "start", "fontSize": 26, "dx": -19, "offset": 2, "frame": "group"},
      "data": {"name": "F"},
      "mark": {"type": "line", "strokeWidth": 1},
      "encoding": {
        "x": {"field": "x", "type": "quantitative", "scale": {"domain": [0, 2]}, "axis": {"values": [0, 0.5, 1, 1.5, 2], "format": "~g", "title": ["Alteration of susceptibility toward pathogen 2", "when the host is resistant to pathogen 1"], "labelOverlap": false}},
        "y": {"field": "value", "type": "quantitative", "scale": {"domain": [2.5, 5], "zero": false}, "axis": {"values": [2.5, 3, 3.5, 4, 4.5, 5], "format": "~g", "title": null, "labelOverlap": false}},
        "color": {"field": "pathogen", "type": "nominal", "scale": {"domain": ["Pathogen 1", "Pathogen 2"], "range": ["#0000ff", "#008000"]}, "legend": null}
      }
    }
  ]
}
